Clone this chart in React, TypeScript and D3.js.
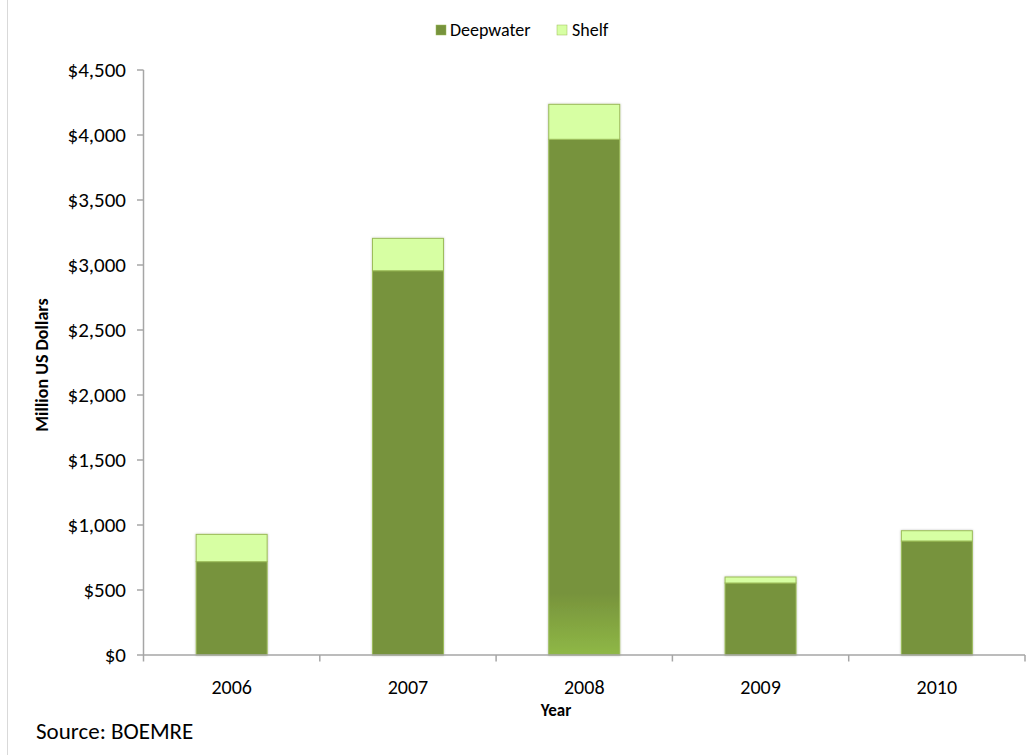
import React from "react";
import * as d3 from "d3";

const years = ["2006", "2007", "2008", "2009", "2010"];
const deepwater = [718, 2956, 3967, 554, 877];
const shelf = [210, 249, 269, 46, 79];
const yTicks = [0, 500, 1000, 1500, 2000, 2500, 3000, 3500, 4000, 4500];
const seriesNames = ["Deepwater", "Shelf"];

const W = 1033;
const H = 755;
const left = 143.5;
const right = 1025;
const top = 70;
const bottom = 655;
const FONT = "Carlito, Calibri, Lato, 'Liberation Sans', sans-serif";

export default function App() {
  const y = d3.scaleLinear().domain([0, 4500]).range([bottom, top]);
  const fmt = (v: number) => "$" + d3.format(",")(v);
  const band = d3.scaleBand<string>().domain(years).range([left, right]);
  const bw = 71;

  return (
    <svg width={W} height={H} style={{ position: "absolute", left: 0, top: 0, background: "#fff" }} fontFamily={FONT}>
      <defs>
        <linearGradient id="g2008" x1="0" y1="0" x2="0" y2="1">
          <stop offset="0" stopColor="#77933C" />
          <stop offset="0.88" stopColor="#77933C" />
          <stop offset="1" stopColor="#8FB846" />
        </linearGradient>
        <filter id="sh" x="-10%" y="-10%" width="120%" height="120%">
          <feDropShadow dx="0" dy="0" stdDeviation="1.2" floodColor="#000" floodOpacity="0.25" />
        </filter>
      </defs>
      <line x1={7.5} x2={7.5} y1={0} y2={H} stroke="#d9d9d9" strokeWidth={1} />

      {/* legend */}
      <g>
        <rect x={436} y={25} width={10} height={10} fill="#77933C" stroke="#9BBB59" strokeWidth={0.5} />
        <text x={450} y={30} dy="0.35em" fontSize={18} fill="#000">{seriesNames[0]}</text>
        <rect x={557} y={25} width={10} height={10} fill="#D7FFA3" stroke="#9BBB59" strokeWidth={0.5} />
        <text x={572} y={30} dy="0.35em" fontSize={18} fill="#000">{seriesNames[1]}</text>
      </g>

      {/* y axis */}
      <line x1={left} x2={left} y1={top} y2={bottom} stroke="#a6a6a6" strokeWidth={1.5} />
      {yTicks.map((t) => (
        <g key={t}>
          <line x1={left - 6.5} x2={left} y1={y(t)} y2={y(t)} stroke="#a6a6a6" strokeWidth={1.5} />
          <text x={126} y={y(t)} dy="0.35em" textAnchor="end" fontSize={21} fill="#000">{fmt(t)}</text>
        </g>
      ))}

      {/* bars */}
      {years.map((yr, i) => {
        const cx = band(yr)! + band.bandwidth() / 2;
        const x0 = cx - bw / 2;
        const d = deepwater[i];
        const s = shelf[i];
        return (
          <g key={yr} filter="url(#sh)">
            <rect x={x0} y={y(d)} width={bw} height={y(0) - y(d)} fill={i === 2 ? "url(#g2008)" : "#77933C"} stroke="#9BBB59" strokeWidth={1} />
            <rect x={x0} y={y(d + s)} width={bw} height={y(d) - y(d + s)} fill="#D7FFA3" stroke="#9BBB59" strokeWidth={1} />
          </g>
        );
      })}

      {/* x axis */}
      <line x1={left} x2={right} y1={bottom} y2={bottom} stroke="#a6a6a6" strokeWidth={1.5} />
      {years.map((yr) => (
        <line key={"t" + yr} x1={band(yr)!} x2={band(yr)!} y1={bottom} y2={bottom + 6.5} stroke="#a6a6a6" strokeWidth={1.5} />
      ))}
      <line x1={right} x2={right} y1={bottom} y2={bottom + 6.5} stroke="#a6a6a6" strokeWidth={1.5} />
      {years.map((yr) => (
        <text key={"l" + yr} x={band(yr)! + band.bandwidth() / 2} y={687} dy="0.35em" textAnchor="middle" fontSize={20} fill="#000">{yr}</text>
      ))}

      <text x={556} y={710} dy="0.35em" textAnchor="middle" fontSize={17} fontWeight="bold" fill="#000">Year</text>
      <text transform={`translate(42,365) rotate(-90)`} textAnchor="middle" dy="0.35em" fontSize={18} fontWeight="bold" fill="#000">Million US Dollars</text>
      <text x={36} y={731} dy="0.35em" fontSize={23} fill="#000">Source: BOEMRE</text>
    </svg>
  );
}
